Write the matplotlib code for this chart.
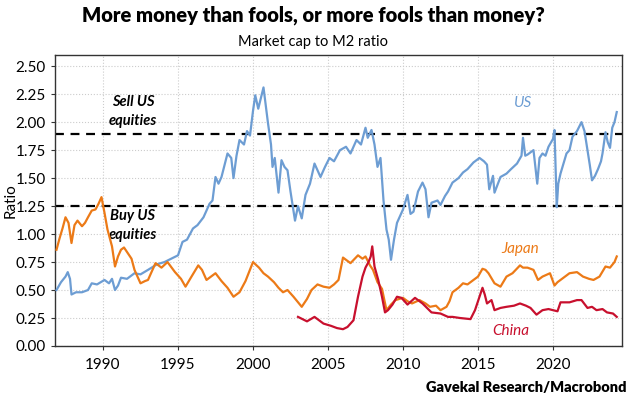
import matplotlib
matplotlib.use("Agg")
import matplotlib.pyplot as plt

# ---------------- data ----------------
us_years = [1986.9, 1987.2, 1987.5, 1987.65, 1987.8, 1987.9, 1988.2, 1988.6, 1989.0, 1989.25,
            1989.6, 1990.1, 1990.4, 1990.6, 1990.8, 1991.0, 1991.2, 1991.6, 1992.1, 1992.5,
            1993.0, 1993.6, 1994.1, 1994.7, 1995.0, 1995.3, 1995.6, 1996.0, 1996.3, 1996.7,
            1997.1, 1997.3, 1997.5, 1997.7, 1997.9, 1998.3, 1998.55, 1998.7, 1998.9, 1999.1,
            1999.4, 1999.6, 1999.8, 2000.0, 2000.15, 2000.35, 2000.5, 2000.7, 2000.85, 2001.0,
            2001.2, 2001.3, 2001.45, 2001.7, 2001.9, 2002.1, 2002.3, 2002.5, 2002.8, 2003.0,
            2003.25, 2003.5, 2003.8, 2004.1, 2004.5, 2004.8, 2005.1, 2005.4, 2005.8, 2006.2,
            2006.5, 2006.9, 2007.2, 2007.5, 2007.65, 2007.9, 2008.1, 2008.3, 2008.5, 2008.7,
            2008.9, 2009.05, 2009.2, 2009.4, 2009.6, 2010.0, 2010.3, 2010.5, 2010.7, 2011.0,
            2011.3, 2011.5, 2011.7, 2011.9, 2012.3, 2012.5, 2012.8, 2013.0, 2013.3, 2013.7,
            2014.0, 2014.3, 2014.7, 2015.1, 2015.4, 2015.6, 2015.75, 2016.0, 2016.1, 2016.5,
            2016.9, 2017.2, 2017.6, 2017.9, 2018.0, 2018.15, 2018.3, 2018.7, 2018.95, 2019.1,
            2019.3, 2019.5, 2019.7, 2020.0, 2020.1, 2020.25, 2020.35, 2020.5, 2020.9, 2021.1,
            2021.3, 2021.6, 2021.9, 2022.1, 2022.3, 2022.45, 2022.6, 2022.8, 2023.0, 2023.2,
            2023.3, 2023.5, 2023.65, 2023.8, 2023.95, 2024.1, 2024.25]
us_vals = [0.50, 0.57, 0.62, 0.66, 0.60, 0.46, 0.48, 0.48, 0.50, 0.56,
           0.55, 0.59, 0.56, 0.60, 0.50, 0.54, 0.61, 0.60, 0.65, 0.64,
           0.68, 0.73, 0.75, 0.79, 0.81, 0.93, 0.95, 1.05, 1.08, 1.15,
           1.27, 1.30, 1.51, 1.45, 1.51, 1.72, 1.68, 1.50, 1.70, 1.84,
           1.80, 1.92, 1.88, 2.10, 2.24, 2.12, 2.20, 2.31, 2.15, 1.99,
           1.80, 1.60, 1.68, 1.37, 1.66, 1.60, 1.57, 1.38, 1.12, 1.25,
           1.14, 1.35, 1.45, 1.63, 1.51, 1.60, 1.68, 1.65, 1.75, 1.78,
           1.72, 1.84, 1.80, 1.95, 1.86, 1.93, 1.80, 1.60, 1.68, 1.30,
           1.04, 0.95, 0.77, 0.95, 1.10, 1.22, 1.35, 1.18, 1.20, 1.38,
           1.46, 1.40, 1.15, 1.28, 1.30, 1.26, 1.34, 1.38, 1.46, 1.50,
           1.55, 1.58, 1.64, 1.68, 1.65, 1.62, 1.40, 1.52, 1.37, 1.51,
           1.54, 1.58, 1.63, 1.70, 1.86, 1.70, 1.71, 1.75, 1.45, 1.68,
           1.72, 1.70, 1.78, 1.85, 1.93, 1.24, 1.45, 1.54, 1.72, 1.75,
           1.87, 1.92, 2.00, 1.92, 1.75, 1.62, 1.48, 1.52, 1.58, 1.65,
           1.72, 1.91, 1.82, 1.77, 1.95, 2.00, 2.09]

jp_years = [1986.9, 1987.1, 1987.3, 1987.5, 1987.7, 1987.9, 1988.1, 1988.3, 1988.6, 1988.8,
            1989.0, 1989.25, 1989.5, 1989.7, 1989.9, 1990.1, 1990.3, 1990.6, 1990.8, 1991.0,
            1991.2, 1991.4, 1991.6, 1991.9, 1992.1, 1992.5, 1992.8, 1993.0, 1993.5, 1993.9,
            1994.3, 1994.8, 1995.2, 1995.5, 1995.9, 1996.35, 1996.6, 1996.9, 1997.2, 1997.5,
            1997.9, 1998.3, 1998.7, 1999.1, 1999.5, 2000.0, 2000.4, 2000.7, 2001.0, 2001.4,
            2001.7, 2002.0, 2002.3, 2002.7, 2003.25, 2003.6, 2003.9, 2004.3, 2004.7, 2005.1,
            2005.4, 2005.7, 2006.0, 2006.3, 2006.5, 2007.0, 2007.3, 2007.5, 2007.8, 2008.0,
            2008.3, 2008.6, 2008.9, 2009.2, 2009.5, 2010.0, 2010.3, 2010.6, 2011.1, 2011.5,
            2011.8, 2012.2, 2012.5, 2012.9, 2013.1, 2013.3, 2013.7, 2014.0, 2014.3, 2014.7,
            2015.0, 2015.3, 2015.5, 2015.7, 2016.1, 2016.5, 2016.9, 2017.3, 2017.8, 2018.0,
            2018.3, 2018.7, 2019.0, 2019.3, 2019.8, 2020.1, 2020.3, 2020.5, 2020.8, 2021.1,
            2021.6, 2022.0, 2022.4, 2022.7, 2023.1, 2023.5, 2023.8, 2024.1, 2024.25]
jp_vals = [0.86, 0.96, 1.05, 1.15, 1.10, 0.92, 1.08, 1.12, 1.07, 1.10,
           1.15, 1.21, 1.22, 1.27, 1.33, 1.19, 1.04, 0.89, 0.71, 0.80,
           0.86, 0.88, 0.84, 0.78, 0.68, 0.56, 0.58, 0.59, 0.74, 0.70,
           0.75, 0.66, 0.60, 0.53, 0.62, 0.72, 0.68, 0.59, 0.62, 0.65,
           0.58, 0.52, 0.44, 0.48, 0.58, 0.75, 0.70, 0.65, 0.62, 0.57,
           0.52, 0.48, 0.50, 0.44, 0.35, 0.42, 0.50, 0.55, 0.53, 0.52,
           0.55, 0.59, 0.79, 0.76, 0.74, 0.81, 0.78, 0.80, 0.72, 0.68,
           0.57, 0.51, 0.32, 0.37, 0.41, 0.43, 0.40, 0.38, 0.41, 0.38,
           0.35, 0.36, 0.32, 0.35, 0.40, 0.48, 0.52, 0.56, 0.55, 0.59,
           0.62, 0.69, 0.68, 0.65, 0.56, 0.53, 0.62, 0.65, 0.72, 0.70,
           0.70, 0.68, 0.59, 0.62, 0.65, 0.54, 0.57, 0.59, 0.62, 0.65,
           0.66, 0.62, 0.60, 0.59, 0.62, 0.71, 0.70, 0.75, 0.80]

cn_years = [2003.0, 2003.3, 2003.6, 2004.1, 2004.4, 2004.7, 2005.2, 2005.6, 2006.0, 2006.3,
            2006.7, 2007.0, 2007.3, 2007.5, 2007.7, 2007.85, 2007.95, 2008.1, 2008.35, 2008.6,
            2008.8, 2009.0, 2009.3, 2009.6, 2009.9, 2010.3, 2010.8, 2011.3, 2011.9, 2012.5,
            2013.0, 2013.3, 2013.8, 2014.5, 2014.8, 2015.1, 2015.3, 2015.45, 2015.6, 2015.9,
            2016.1, 2016.5, 2016.9, 2017.4, 2017.8, 2018.2, 2018.5, 2018.9, 2019.3, 2019.7,
            2020.0, 2020.3, 2020.5, 2021.1, 2021.6, 2021.9, 2022.3, 2022.6, 2022.9, 2023.3,
            2023.6, 2024.0, 2024.25]
cn_vals = [0.26, 0.24, 0.22, 0.26, 0.23, 0.20, 0.18, 0.16, 0.15, 0.17,
           0.23, 0.44, 0.62, 0.70, 0.75, 0.80, 0.89, 0.71, 0.59, 0.44,
           0.30, 0.32, 0.37, 0.44, 0.43, 0.37, 0.43, 0.38, 0.30, 0.29,
           0.26, 0.26, 0.25, 0.24, 0.32, 0.44, 0.52, 0.46, 0.38, 0.41,
           0.32, 0.34, 0.35, 0.36, 0.38, 0.36, 0.34, 0.28, 0.32, 0.33,
           0.32, 0.31, 0.39, 0.39, 0.41, 0.41, 0.34, 0.35, 0.32, 0.33,
           0.30, 0.29, 0.26]

sell_level = 1.89
buy_level = 1.25
x_ticks = [1990, 1995, 2000, 2005, 2010, 2015, 2020]
y_ticks = [0.00, 0.25, 0.50, 0.75, 1.00, 1.25, 1.50, 1.75, 2.00, 2.25, 2.50]

# ---------------- figure ----------------
plt.rcParams['font.family'] = ['Lato', 'DejaVu Sans']
fig = plt.figure(figsize=(6.3, 3.97), dpi=100)
ax = fig.add_axes([0.0873, 0.1285, 0.9, 0.733])

c_us = '#6d9dd3'
c_jp = '#ec7a17'
c_cn = '#c8102e'

ax.plot(us_years, us_vals, color=c_us, lw=1.6, zorder=3)
ax.plot(jp_years, jp_vals, color=c_jp, lw=1.6, zorder=4)
ax.plot(cn_years, cn_vals, color=c_cn, lw=1.6, zorder=5)

ax.axhline(sell_level, color='black', lw=1.6, ls=(0, (4, 3)), zorder=2)
ax.axhline(buy_level, color='black', lw=1.6, ls=(0, (4, 3)), zorder=2)

ax.set_xlim(1986.8, 2024.6)
ax.set_ylim(0, 2.6)
ax.set_xticks(x_ticks)
ax.set_yticks(y_ticks)
ax.set_yticklabels([f"{v:.2f}" for v in y_ticks])
ax.tick_params(axis='both', labelsize=11, length=3, color='#333333')
ax.tick_params(axis='x', pad=6)
ax.grid(True, color='#cccccc', ls=':', lw=0.8)
for s in ax.spines.values():
    s.set_color('#333333')
    s.set_linewidth(1.0)
ax.set_ylabel('Ratio', fontsize=11)
ax.yaxis.set_label_coords(-0.066, 0.5)

kw = dict(fontsize=10.5, fontweight='bold', style='italic', ha='center', va='center')
ax.text(1992.0, 2.18, 'Sell US', **kw)
ax.text(1992.0, 2.01, 'equities', **kw)
ax.text(1992.0, 1.16, 'Buy US', **kw)
ax.text(1992.0, 0.99, 'equities', **kw)
ax.text(2018.0, 2.17, 'US', fontsize=11, style='italic', color=c_us, ha='center', va='center')
ax.text(2017.8, 0.87, 'Japan', fontsize=11, style='italic', color=c_jp, ha='center', va='center')
ax.text(2017.2, 0.13, 'China', fontsize=11, style='italic', color=c_cn, ha='center', va='center')

fig.text(0.497, 0.962, 'More money than fools, or more fools than money?', fontsize=14.5,
         fontweight='heavy', ha='center', va='center')
fig.text(0.497, 0.893, 'Market cap to M2 ratio', fontsize=10.5, ha='center', va='center')
fig.text(0.995, 0.025, 'Gavekal Research/Macrobond', fontsize=10.5, fontweight='heavy',
         ha='right', va='center')

fig.savefig('out.png', dpi=100)
